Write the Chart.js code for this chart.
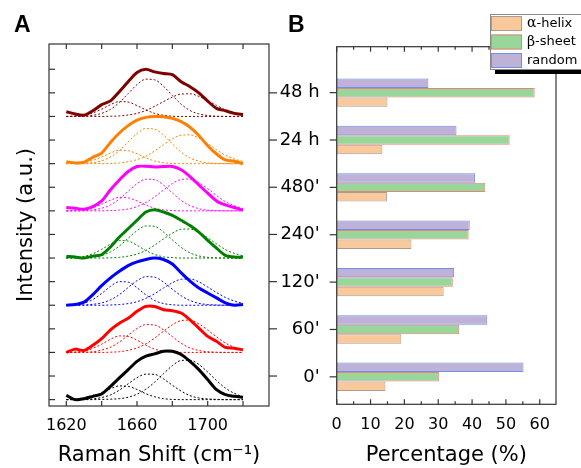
<!DOCTYPE html>
<html>
<head>
<meta charset="utf-8">
<script src="https://cdn.jsdelivr.net/npm/chart.js@4.4.0/dist/chart.umd.min.js"></script>
<style>
    html, body { margin: 0; padding: 0; background: #fff; }
    #wrapA { position: absolute; left: 0; top: 0; width: 282px; height: 468px; }
    #wrapB { position: absolute; left: 280px; top: 0; width: 301px; height: 468px; }
</style>
</head>
<body>
<div id="wrapA"><canvas id="chartA"></canvas></div>
<div id="wrapB"><canvas id="chartB"></canvas></div>
<script>
// ---------- panel A: Raman amide I band, stacked with offsets, 3 fitted components ----------
var ramanShift = [1620, 1625, 1630, 1635, 1640, 1645, 1650, 1655, 1660, 1665, 1670,
                  1675, 1680, 1685, 1690, 1695, 1700, 1705, 1710, 1715, 1720];
var ramanTicks = [1620, 1640, 1660, 1680, 1700, 1720];

// 0' (black)
var raw0   = [0.18, 0.0, 0.04, 0.14, 0.24, 0.56, 0.92, 1.27, 1.62, 1.84, 1.94, 2.05, 2.05, 1.91, 1.62, 1.27, 0.85, 0.42, 0.21, 0.14, 0.1];
var fit0a  = [0, 0.02, 0.05, 0.14, 0.29, 0.46, 0.58, 0.56, 0.43, 0.25, 0.12, 0.04, 0.01, 0, 0, 0, 0, 0, 0, 0, 0];
var fit0b  = [0, 0, 0.01, 0.03, 0.09, 0.2, 0.4, 0.67, 0.93, 1.08, 1.07, 0.88, 0.61, 0.36, 0.17, 0.07, 0.03, 0.01, 0, 0, 0];
var fit0c  = [0, 0, 0, 0, 0.01, 0.02, 0.04, 0.1, 0.23, 0.44, 0.74, 1.1, 1.44, 1.66, 1.67, 1.49, 1.17, 0.81, 0.49, 0.27, 0.12];
// 60' (red)
var raw60  = [2.0, 2.14, 2.08, 2.3, 2.58, 2.96, 3.24, 3.45, 3.74, 3.95, 3.95, 3.81, 3.77, 3.67, 3.38, 3.03, 2.68, 2.47, 2.21, 2.18, 2.11];
var fit60a = [2, 2.02, 2.06, 2.17, 2.35, 2.56, 2.7, 2.68, 2.52, 2.31, 2.14, 2.05, 2.01, 2, 2, 2, 2, 2, 2, 2, 2];
var fit60b = [2, 2, 2.01, 2.03, 2.1, 2.22, 2.44, 2.73, 3.01, 3.18, 3.16, 2.96, 2.67, 2.39, 2.19, 2.08, 2.03, 2.01, 2, 2, 2];
var fit60c = [2, 2, 2, 2, 2, 2.01, 2.03, 2.09, 2.19, 2.36, 2.61, 2.9, 3.17, 3.35, 3.37, 3.21, 2.95, 2.66, 2.4, 2.22, 2.1];
// 120' (blue)
var raw120  = [4.0, 4.03, 4.13, 4.45, 4.83, 5.16, 5.44, 5.68, 5.84, 5.94, 6.0, 5.94, 5.75, 5.37, 5.02, 4.73, 4.52, 4.31, 4.1, 4.0, 4.03];
var fit120a = [4.01, 4.03, 4.09, 4.24, 4.5, 4.8, 5.0, 4.98, 4.74, 4.44, 4.2, 4.07, 4.02, 4, 4, 4, 4, 4, 4, 4, 4];
var fit120b = [4, 4, 4.01, 4.04, 4.1, 4.23, 4.45, 4.75, 5.04, 5.21, 5.19, 4.98, 4.68, 4.4, 4.2, 4.08, 4.03, 4.01, 4, 4, 4];
var fit120c = [4, 4, 4, 4, 4, 4.01, 4.03, 4.07, 4.15, 4.29, 4.49, 4.73, 4.95, 5.1, 5.11, 4.99, 4.77, 4.54, 4.33, 4.18, 4.08];
// 240' (green)
var raw240  = [6.07, 6.04, 6.0, 6.08, 6.14, 6.47, 6.89, 7.24, 7.6, 7.95, 8.05, 7.95, 7.81, 7.6, 7.38, 7.1, 6.75, 6.42, 6.11, 6.04, 6.04];
var fit240a = [6, 6.02, 6.07, 6.18, 6.37, 6.59, 6.74, 6.72, 6.54, 6.32, 6.15, 6.05, 6.02, 6, 6, 6, 6, 6, 6, 6, 6];
var fit240b = [6, 6, 6.01, 6.04, 6.11, 6.26, 6.51, 6.84, 7.16, 7.36, 7.34, 7.1, 6.77, 6.45, 6.22, 6.09, 6.03, 6.01, 6, 6, 6];
var fit240c = [6, 6, 6, 6, 6, 6.01, 6.03, 6.08, 6.17, 6.32, 6.55, 6.81, 7.05, 7.22, 7.23, 7.09, 6.86, 6.6, 6.36, 6.2, 6.09];
// 480' (magenta)
var raw480  = [8.14, 8.11, 8.07, 8.18, 8.42, 8.89, 9.31, 9.67, 9.88, 9.89, 9.86, 9.88, 9.88, 9.74, 9.45, 9.1, 8.75, 8.42, 8.25, 8.14, 8.03];
var fit480a = [8, 8.02, 8.05, 8.14, 8.28, 8.45, 8.57, 8.55, 8.42, 8.25, 8.11, 8.04, 8.01, 8, 8, 8, 8, 8, 8, 8, 8];
var fit480b = [8, 8, 8.01, 8.04, 8.11, 8.25, 8.5, 8.83, 9.15, 9.34, 9.32, 9.09, 8.76, 8.44, 8.22, 8.09, 8.03, 8.01, 8, 8, 8];
var fit480c = [8, 8, 8, 8, 8, 8.01, 8.03, 8.08, 8.18, 8.35, 8.6, 8.88, 9.16, 9.33, 9.35, 9.2, 8.94, 8.65, 8.39, 8.22, 8.1];
// 24 h (orange)
var raw24h  = [10.08, 10.03, 10.06, 10.27, 10.45, 10.9, 11.3, 11.61, 11.84, 11.96, 12.0, 11.99, 11.92, 11.78, 11.54, 11.19, 10.76, 10.41, 10.16, 10.1, 10.0];
var fit24ha = [10, 10.02, 10.05, 10.14, 10.28, 10.45, 10.57, 10.55, 10.42, 10.25, 10.11, 10.04, 10.01, 10, 10, 10, 10, 10, 10, 10, 10];
var fit24hb = [10, 10, 10.01, 10.04, 10.12, 10.28, 10.55, 10.92, 11.27, 11.49, 11.46, 11.21, 10.84, 10.49, 10.24, 10.1, 10.03, 10.01, 10, 10, 10];
var fit24hc = [10, 10, 10, 10, 10, 10.01, 10.03, 10.08, 10.17, 10.32, 10.54, 10.8, 11.05, 11.21, 11.22, 11.08, 10.85, 10.59, 10.36, 10.2, 10.09];
// 48 h (dark red)
var raw48h  = [12.2, 12.1, 12.05, 12.24, 12.5, 12.66, 13.05, 13.47, 13.86, 14.0, 13.89, 13.82, 13.77, 13.47, 13.26, 13.0, 12.65, 12.34, 12.24, 12.13, 12.08];
var fit48ha = [12, 12.02, 12.06, 12.15, 12.31, 12.5, 12.63, 12.61, 12.46, 12.28, 12.13, 12.05, 12.01, 12, 12, 12, 12, 12, 12, 12, 12];
var fit48hb = [12, 12, 12.01, 12.05, 12.13, 12.3, 12.59, 12.97, 13.35, 13.58, 13.55, 13.28, 12.89, 12.52, 12.25, 12.11, 12.04, 12.01, 12, 12, 12];
var fit48hc = [12, 12, 12, 12, 12, 12.01, 12.02, 12.06, 12.13, 12.25, 12.43, 12.63, 12.82, 12.95, 12.96, 12.85, 12.67, 12.47, 12.28, 12.16, 12.07];

// ---------- panel B: secondary structure content ----------
var timePoints = ["0'", "60'", "120'", "240'", "480'", "24 h", "48 h"];
var alphaHelix = [14.4, 19.1, 31.6, 22.1, 14.9, 13.5, 15.0];
var betaSheet  = [30.3, 36.2, 34.3, 39.0, 43.9, 51.1, 58.5];
var randomCoil = [55.2, 44.5, 34.7, 39.3, 40.9, 35.4, 27.1];
var percentTicks = [0, 5, 10, 15, 20, 25, 30, 35, 40, 45, 50, 55, 60];

var SANS = "'DejaVu Sans', sans-serif";
Chart.defaults.font.family = SANS;
Chart.defaults.color = '#000';

var spectra = [
    [raw0, fit0a, fit0b, fit0c],
    [raw60, fit60a, fit60b, fit60c],
    [raw120, fit120a, fit120b, fit120c],
    [raw240, fit240a, fit240b, fit240c],
    [raw480, fit480a, fit480b, fit480c],
    [raw24h, fit24ha, fit24hb, fit24hc],
    [raw48h, fit48ha, fit48hb, fit48hc]
];
var spectrumColors = ['#000000', '#ff0000', '#0000ff', '#008000', '#ff00ff', '#ff8000', '#800000'];

function toPoints(ys) {
    return ramanShift.map(function (x, i) { return {x: x, y: ys[i]}; });
}

var datasetsA = [];
spectra.forEach(function (set, k) {
    var c = spectrumColors[k];
    datasetsA.push({
        data: toPoints(set[0]), borderColor: c, borderWidth: 3,
        pointRadius: 0, tension: 0.25, order: 0
    });
    for (var j = 1; j < set.length; j++) {
        datasetsA.push({
            data: toPoints(set[j]), borderColor: c, borderWidth: 1, borderDash: [2, 2],
            pointRadius: 0, cubicInterpolationMode: 'monotone', order: 1
        });
    }
});

// frame, inward/outward tick marks, panel letter and the boxed legend
var decoPlugin = {
    id: 'deco',
    afterDraw: function (chart, args, o) {
        var ctx = chart.ctx, a = chart.chartArea;
        ctx.save();
        ctx.strokeStyle = '#333';
        ctx.lineWidth = 1.2;
        ctx.strokeRect(a.left, a.top, a.right - a.left, a.bottom - a.top);
        o.marks.forEach(function (m) {
            var sc = chart.scales[m.scale];
            m.values.forEach(function (v) {
                var p = sc.getPixelForValue(v);
                var len = typeof m.len === 'function' ? m.len(v) : m.len;
                ctx.beginPath();
                if (m.side === 'bottom') { ctx.moveTo(p, a.bottom); ctx.lineTo(p, a.bottom - len); }
                if (m.side === 'top') { ctx.moveTo(p, a.top); ctx.lineTo(p, a.top + len); }
                if (m.side === 'left') { ctx.moveTo(a.left, p); ctx.lineTo(a.left + len, p); }
                if (m.side === 'right') { ctx.moveTo(a.right, p); ctx.lineTo(a.right - len, p); }
                ctx.stroke();
            });
        });
        ctx.fillStyle = '#000';
        ctx.font = "bold 23px 'Liberation Sans', sans-serif";
        ctx.textBaseline = 'alphabetic';
        ctx.fillText(o.letter, o.letterX, o.letterY);

        if (o.legend) {
            var L = o.legend;
            ctx.fillStyle = '#000';
            ctx.fillRect(L.x + 5, L.y + L.h, L.w, 5);
            ctx.fillStyle = '#fff';
            ctx.fillRect(L.x, L.y, L.w, L.h);
            ctx.strokeStyle = '#8a8a8a';
            ctx.lineWidth = 1;
            ctx.strokeRect(L.x + 0.5, L.y + 0.5, L.w, L.h);
            var ds = chart.data.datasets.slice().reverse();
            ds.forEach(function (d, i) {
                var top = L.y + 2 + i * 18.5;
                ctx.fillStyle = d.backgroundColor;
                ctx.fillRect(L.x + 1, top, 31, 15);
                ctx.strokeStyle = d.borderColor;
                ctx.strokeRect(L.x + 1.5, top + 0.5, 30, 14);
                ctx.fillStyle = '#000';
                ctx.textBaseline = 'middle';
                var tx = L.x + 37, ty = top + 7.5;
                var label = d.label;
                if (/^[\u03b1\u03b2]/.test(label)) {
                    ctx.font = "14px 'DejaVu Serif', serif";
                    ctx.fillText(label[0], tx, ty);
                    tx += ctx.measureText(label[0]).width;
                    label = label.slice(1);
                }
                ctx.font = "13px " + SANS;
                ctx.fillText(label, tx, ty);
            });
        }
        ctx.restore();
    }
};

new Chart(document.getElementById('chartA'), {
    type: 'line',
    data: {datasets: datasetsA},
    options: {
        responsive: true,
        maintainAspectRatio: false,
        animation: false,
        layout: {padding: {top: 44, left: 0, right: 0, bottom: 0}},
        plugins: {
            legend: {display: false},
            tooltip: {enabled: false},
            deco: {
                letter: 'A', letterX: 14, letterY: 32,
                marks: [
                    {scale: 'x', side: 'bottom', values: ramanTicks, len: 5},
                    {scale: 'x', side: 'top', values: ramanTicks, len: 5},
                    {scale: 'y', side: 'left', values: [0, 1, 2, 3, 4, 5, 6, 7, 8, 9, 10, 11, 12, 13, 14], len: 6},
                    {scale: 'y', side: 'right', values: [1, 3, 5, 7, 9, 11, 13], len: -8}
                ]
            }
        },
        scales: {
            x: {
                type: 'linear', min: 1610.2, max: 1734.7,
                grid: {display: false}, border: {display: false},
                afterBuildTicks: function (s) { s.ticks = ramanTicks.map(function (v) { return {value: v}; }); },
                ticks: {
                    font: {size: 16}, padding: 2, autoSkip: false, maxRotation: 0,
                    callback: function (v) { return (v - 1620) % 40 === 0 ? String(v) : ''; }
                },
                title: {display: true, text: 'Raman Shift (cm\u207b\u00b9)', font: {size: 21}, padding: {top: 0, bottom: 0}},
                afterFit: function (s) { s.height = 62; }
            },
            y: {
                min: -0.27, max: 15.07,
                grid: {display: false}, border: {display: false},
                ticks: {display: false},
                title: {display: true, text: 'Intensity (a.u.)', font: {size: 21}, padding: {top: 14, bottom: 0}},
                afterFit: function (s) { s.width = 49; }
            },
            y2: {
                position: 'right', display: true, min: -0.27, max: 15.07,
                grid: {display: false}, border: {display: false},
                ticks: {display: false},
                afterFit: function (s) { s.width = 13; }
            }
        }
    },
    plugins: [decoPlugin]
});

function toBars(values) {
    return values.map(function (v, i) { return {x: v, y: i}; });
}

new Chart(document.getElementById('chartB'), {
    type: 'bar',
    data: {
        datasets: [
            {label: 'random', data: toBars(randomCoil), backgroundColor: '#bfb2d9', borderColor: '#6f8fe8', borderWidth: 1, borderSkipped: false},
            {label: '\u03b2-sheet', data: toBars(betaSheet), backgroundColor: '#99d699', borderColor: '#e8857a', borderWidth: 1, borderSkipped: false},
            {label: '\u03b1-helix', data: toBars(alphaHelix), backgroundColor: '#f9c99c', borderColor: '#a99d93', borderWidth: 1, borderSkipped: false}
        ]
    },
    options: {
        indexAxis: 'y',
        responsive: true,
        maintainAspectRatio: false,
        animation: false,
        categoryPercentage: 0.6,
        barPercentage: 1.0,
        layout: {padding: {top: 46.7, left: 0, right: 25, bottom: 0}},
        plugins: {
            legend: {display: false},
            tooltip: {enabled: false},
            deco: {
                letter: 'B', letterX: 8, letterY: 32,
                marks: [
                    {scale: 'x', side: 'bottom', values: percentTicks, len: function (v) { return v % 10 === 0 ? 5 : 3; }},
                    {scale: 'x', side: 'top', values: percentTicks, len: function (v) { return v % 10 === 0 ? 5 : 3; }},
                    {scale: 'y', side: 'left', values: [0, 1, 2, 3, 4, 5, 6], len: -7}
                ],
                legend: {x: 210, y: 14, w: 100, h: 55}
            }
        },
        scales: {
            x: {
                type: 'linear', min: 0, max: 64.8,
                grid: {display: false}, border: {display: false},
                afterBuildTicks: function (s) { s.ticks = percentTicks.map(function (v) { return {value: v}; }); },
                ticks: {
                    font: {size: 16}, padding: 3, autoSkip: false, maxRotation: 0,
                    callback: function (v) { return v % 10 === 0 ? String(v) : ''; }
                },
                title: {display: true, text: 'Percentage (%)', font: {size: 21}, padding: {top: 0, bottom: 0}},
                afterFit: function (s) { s.height = 63.7; }
            },
            y: {
                type: 'linear', min: -0.58, max: 6.97, offset: false,
                grid: {display: false}, border: {display: false},
                afterBuildTicks: function (s) { s.ticks = timePoints.map(function (t, i) { return {value: i}; }); },
                ticks: {
                    font: {size: 18}, padding: 9, autoSkip: false,
                    callback: function (v) { return timePoints[v]; }
                },
                afterFit: function (s) { s.width = 56.7; }
            }
        }
    },
    plugins: [decoPlugin]
});
</script>
</body>
</html>
